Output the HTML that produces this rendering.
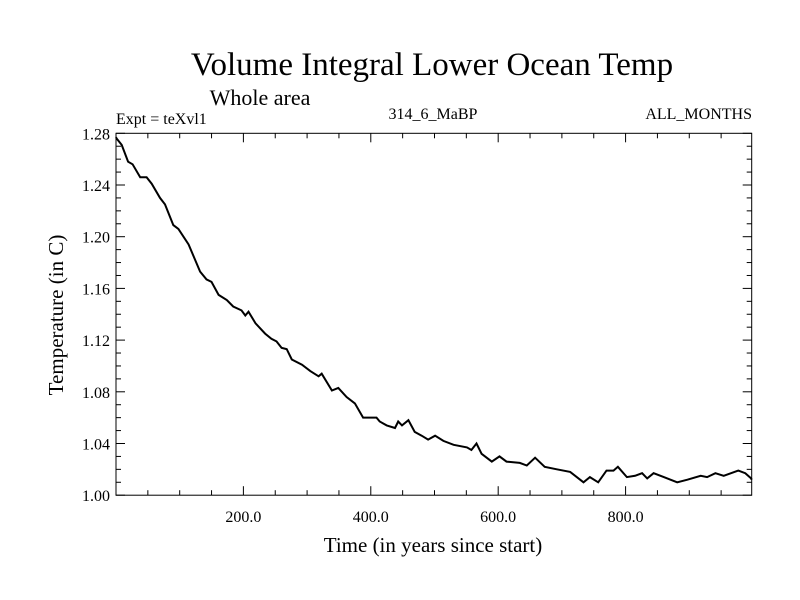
<!DOCTYPE html>
<html><head><meta charset="utf-8"><style>
body{margin:0;background:#fff}
svg{display:block;font-family:"Liberation Serif",serif}
</style></head><body>
<svg id="c" width="800" height="600" xmlns="http://www.w3.org/2000/svg">
<rect width="800" height="600" fill="#fff"/>
<text x="432" y="75" font-size="33" text-anchor="middle">Volume Integral Lower Ocean Temp</text>
<text x="260" y="105" font-size="22" text-anchor="middle">Whole area</text>
<text x="116" y="124" font-size="16">Expt = teXvl1</text>
<text x="433" y="119" font-size="16" text-anchor="middle">314_6_MaBP</text>
<text x="752" y="119" font-size="16" text-anchor="end">ALL_MONTHS</text>
<text x="433" y="552" font-size="21" text-anchor="middle">Time (in years since start)</text>
<text transform="translate(63,315) rotate(-90)" font-size="21" text-anchor="middle">Temperature (in C)</text>
<g id="ax"></g>
<rect x="116" y="133.3" width="635.7" height="361.9" fill="none" stroke="#000" stroke-width="1"/>
<path id="ln" fill="none" stroke="#000" stroke-width="2"/>
</svg>
<script>
const years=[0,1,9,19,26,38,48,56,69,77,90,98,114,132,142,150,161,174,184,197,203,208,219,234,244,252,260,268,276,292,305,318,323,339,349,362,375,388,409,414,425,438,443,449,459,469,480,490,501,514,530,551,558,566,574,590,602,613,634,645,658,673,692,713,734,744,757,770,781,788,802,815,826,834,844,860,881,897,918,928,941,954,977,988,997,998];
const temps=[1.277,1.276,1.271,1.258,1.256,1.246,1.246,1.241,1.230,1.225,1.209,1.206,1.194,1.173,1.167,1.165,1.155,1.151,1.146,1.143,1.139,1.142,1.133,1.125,1.121,1.119,1.114,1.113,1.105,1.101,1.096,1.092,1.094,1.081,1.083,1.076,1.071,1.060,1.060,1.057,1.054,1.052,1.057,1.054,1.058,1.049,1.046,1.043,1.046,1.042,1.039,1.037,1.035,1.040,1.032,1.026,1.030,1.026,1.025,1.023,1.029,1.022,1.020,1.018,1.010,1.014,1.010,1.019,1.019,1.022,1.014,1.015,1.017,1.013,1.017,1.014,1.010,1.012,1.015,1.014,1.017,1.015,1.019,1.017,1.013,1.012];
const xTicks=[200,400,600,800];
const xTickLabels=["200.0","400.0","600.0","800.0"];
const yTicks=[1.00,1.04,1.08,1.12,1.16,1.20,1.24,1.28];
const yTickLabels=["1.00","1.04","1.08","1.12","1.16","1.20","1.24","1.28"];
const X0=116,X1=751.7,XMAX=998,Y0=495.2,Y1=133.3;
const xs=v=>X0+(X1-X0)*v/XMAX;
const ys=v=>Y0-(Y0-Y1)*(v-1.00)/0.28;
const NS="http://www.w3.org/2000/svg";
const ax=document.getElementById('ax');
function ln(x1,y1,x2,y2,n){const l=document.createElementNS(NS,'line');l.setAttribute('x1',x1);l.setAttribute('y1',y1);l.setAttribute('x2',x2);l.setAttribute('y2',y2);l.setAttribute('stroke','#000');l.setAttribute('stroke-width','1');


ax.appendChild(l);}
function tx(x,y,s,a,n){const t=document.createElementNS(NS,'text');t.setAttribute('x',x);t.setAttribute('y',y);t.setAttribute('font-size','16');t.setAttribute('text-anchor',a);t.textContent=s;


ax.appendChild(t);}
for(let v=50;v<XMAX;v+=50){const major=v%200===0;const L=major?9:5;const x=xs(v);ln(x,Y0,x,Y0-L,'x-tick');ln(x,Y1,x,Y1+L,'x-tick');}
xTicks.forEach((v,i)=>tx(xs(v),Y0+27,xTickLabels[i],'middle','x-tick-label'));
for(let k=0;k<=28;k++){const v=1+k*0.01;const major=k%4===0;const L=major?9:5;const y=ys(v);ln(X0,y,X0+L,y,'y-tick');ln(X1,y,X1-L,y,'y-tick');}
yTicks.forEach((v,i)=>tx(X0-6,ys(v)+6,yTickLabels[i],'end','y-tick-label'));
document.getElementById('ln').setAttribute('d',years.map((v,i)=>(i?'L':'M')+xs(v).toFixed(1)+','+ys(temps[i]).toFixed(1)).join(''));
</script>
</body></html>
